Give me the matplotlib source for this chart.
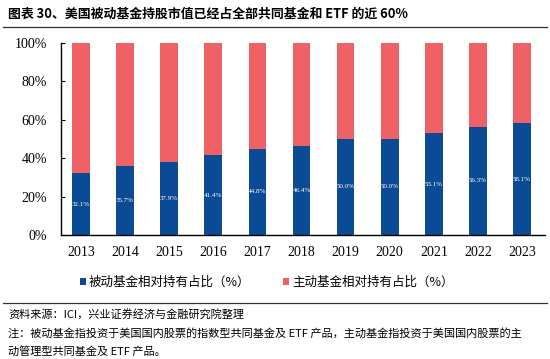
import matplotlib
matplotlib.use("Agg")
import matplotlib.pyplot as plt
from matplotlib.lines import Line2D
from matplotlib.patches import Patch

years = ["2013", "2014", "2015", "2016", "2017", "2018", "2019", "2020", "2021", "2022", "2023"]
passive = [32.1, 35.7, 37.9, 41.4, 44.8, 46.4, 50.0, 50.0, 53.1, 56.3, 58.1]
active = [100 - v for v in passive]
yticks = [0, 20, 40, 60, 80, 100]
ytick_labels = ["0%", "20%", "40%", "60%", "80%", "100%"]

title = "图表 30、美国被动基金持股市值已经占全部共同基金和 ETF 的近 60%"
legend_labels = ["被动基金相对持有占比（%）", "主动基金相对持有占比（%）"]
source = "资料来源：ICI，兴业证券经济与金融研究院整理"
note1 = "注：被动基金指投资于美国国内股票的指数型共同基金及 ETF 产品，主动基金指投资于美国国内股票的主"
note2 = "动管理型共同基金及 ETF 产品。"

BLUE = "#0B4A94"
RED = "#F06166"
CJK = ["Noto Sans CJK SC", "DejaVu Sans"]
SERIF = ["Liberation Serif", "DejaVu Serif"]

fig = plt.figure(figsize=(5.5, 3.59), dpi=100)
ax = fig.add_axes([0.111, 0.3454, 0.880, 0.535])

x = list(range(len(years)))
ax.bar(x, passive, width=0.4, color=BLUE, zorder=2)
ax.bar(x, active, width=0.4, bottom=passive, color=RED, zorder=2)
for xi, v in zip(x, passive):
    ax.text(xi, v / 2, f"{v:.1f}%", ha="center", va="center", color="white",
            fontsize=5, family=SERIF)

ax.set_xlim(-0.45, 10.52)
ax.set_ylim(0, 100)
ax.set_yticks(yticks)
ax.set_yticklabels(ytick_labels, family=SERIF, fontsize=10)
ax.set_xticks(x)
ax.set_xticklabels(years, family=SERIF, fontsize=10)
ax.tick_params(axis="x", length=0, pad=8)
ax.tick_params(axis="y", direction="in", length=3, pad=10, width=0.8)
for s in ["top", "right"]:
    ax.spines[s].set_visible(False)
ax.spines["left"].set_linewidth(1.0)
ax.spines["bottom"].set_linewidth(1.0)

handles = [Patch(facecolor=BLUE), Patch(facecolor=RED)]
fig.legend(handles, legend_labels, loc="center", bbox_to_anchor=(0.485, 1 - 282 / 359),
           ncol=2, frameon=False, prop={"family": CJK, "size": 9},
           handlelength=0.5, handleheight=0.5, handletextpad=0.25, columnspacing=2.6)

fig.text(0.015, 1 - 14 / 359, title, family=CJK, fontsize=9.3, fontweight="bold",
         va="center", ha="left")
fig.add_artist(Line2D([0.005, 0.995], [1 - 27 / 359] * 2, color="#333333", lw=0.9,
                      transform=fig.transFigure))
fig.add_artist(Line2D([0.005, 0.995], [1 - 303 / 359] * 2, color="#333333", lw=0.9,
                      transform=fig.transFigure))
fig.text(0.015, 1 - 314 / 359, source, family=CJK, fontsize=8, va="center", ha="left")
fig.text(0.015, 1 - 333 / 359, note1, family=CJK, fontsize=8, va="center", ha="left")
fig.text(0.015, 1 - 351 / 359, note2, family=CJK, fontsize=8, va="center", ha="left")

fig.savefig("out.png", dpi=100)
